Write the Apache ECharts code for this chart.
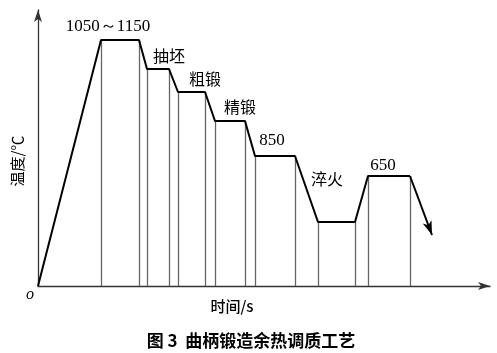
<!DOCTYPE html>
<html><head><meta charset="utf-8">
<script src="https://cdn.jsdelivr.net/npm/echarts@6/dist/echarts.min.js"></script>
<style>html,body{margin:0;padding:0;background:#fff}#c{width:497px;height:353px}</style>
</head><body><div id="c"></div>
<script>
// schematic time (arbitrary units) and temperature (schematic units) of the process curve
const timeX = [0, 63, 101, 109, 131, 140, 167, 177, 207, 217, 257, 280, 317, 330, 372, 394];
const temp  = [0, 246, 246, 217, 217, 194, 194, 165, 165, 130, 130, 64, 64, 110, 110, 51];
const stageLabels = ['1050～1150', '抽坯', '粗锻', '精锻', '850', '淬火', '650'];
const yName = '温度/℃';
const xName = '时间/s';
const caption = '图 3  曲柄锻造余热调质工艺';

const chart = echarts.init(document.getElementById('c'), null, {renderer: 'canvas'});
const n = timeX.length;
const curve = timeX.slice(0, n - 1).map((x, i) => [x, temp[i]]);
const verticals = [];
for (let i = 1; i < n - 1; i++) {
  verticals.push([{coord: [timeX[i], 0]}, {coord: [timeX[i], temp[i]]}]);
}
const serif = 'Liberation Serif';
const cjk = '"Noto Sans CJK SC"';
const labelPos = [[108, 27], [169, 56], [205, 79], [240, 107], [272, 141], [327, 179], [383, 166]];
const graphics = stageLabels.map((t, i) => ({
  type: 'text', x: labelPos[i][0], y: labelPos[i][1],
  style: {text: t, fill: '#000', align: 'center', verticalAlign: 'middle',
    font: (/[0-9]/.test(t) ? '17px ' + serif : '16px ' + cjk)}
}));
graphics.push({type: 'text', x: 17, y: 161, rotation: Math.PI / 2,
  style: {text: yName, fill: '#000', align: 'center', verticalAlign: 'middle', font: '15px ' + cjk}});
graphics.push({type: 'text', x: 30, y: 295,
  style: {text: 'o', fill: '#000', align: 'center', verticalAlign: 'middle', font: 'italic 16px ' + serif}});
graphics.push({type: 'text', x: 232, y: 306,
  style: {text: xName, fill: '#000', align: 'center', verticalAlign: 'middle', font: '500 15px ' + cjk}});
graphics.push({type: 'text', x: 251, y: 341,
  style: {text: caption, fill: '#000', align: 'center', verticalAlign: 'middle', font: 'bold 17px ' + cjk}});

chart.setOption({
  backgroundColor: '#fff',
  animation: false,
  grid: {left: 38, top: 10, width: 452, height: 276},
  xAxis: {type: 'value', min: 0, max: 452,
    axisLine: {show: true, symbol: ['none', 'arrow'], symbolSize: [6, 12], lineStyle: {color: '#333', width: 1.3}},
    axisTick: {show: false}, axisLabel: {show: false}, splitLine: {show: false}},
  yAxis: {type: 'value', min: 0, max: 276,
    axisLine: {show: true, symbol: ['none', 'arrow'], symbolSize: [6, 12], lineStyle: {color: '#333', width: 1.3}},
    axisTick: {show: false}, axisLabel: {show: false}, splitLine: {show: false}},
  series: [
    {type: 'line', data: curve, showSymbol: false, lineStyle: {color: '#000', width: 2}, z: 5,
      markLine: {silent: true, symbol: ['none', 'none'], label: {show: false},
        lineStyle: {color: '#666', width: 1.3, type: 'solid'}, data: verticals}},
    {type: 'line', data: [], z: 6,
      markLine: {silent: true, symbol: ['none', 'arrow'], symbolSize: [7, 14], label: {show: false},
        lineStyle: {color: '#000', width: 2, type: 'solid'},
        data: [[{coord: [timeX[n - 2], temp[n - 2]]}, {coord: [timeX[n - 1], temp[n - 1]]}]]}}
  ],
  graphic: graphics
});
</script></body></html>
